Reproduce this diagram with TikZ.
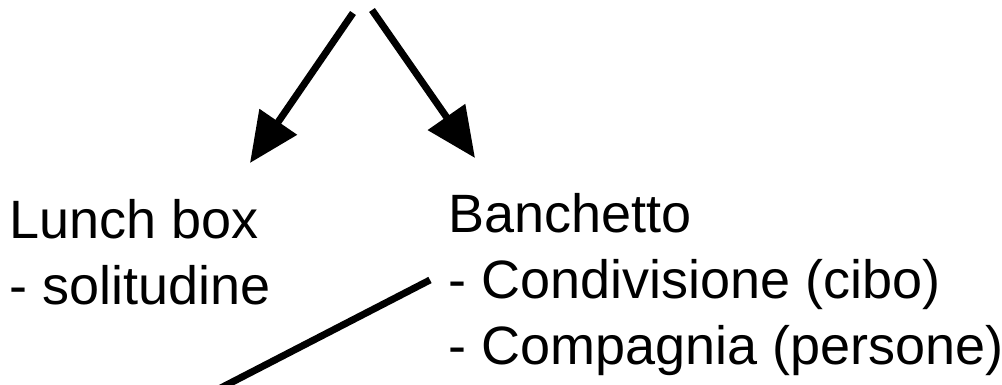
\documentclass[tikz,border=0pt]{standalone}
\usepackage{fontspec}
\setmainfont{Liberation Sans}
\usetikzlibrary{arrows.meta, positioning}

\begin{document}
\begin{tikzpicture}[x=1pt, y=-1pt, node distance=2cm,
    txt/.style={anchor=base west, align=left, inner sep=0pt, font=\fontsize{54}{66}\selectfont},
    bigarrow/.style={-{Triangle[length=50pt, width=44pt]}, line width=7pt}]
    \path[use as bounding box, clip] (0,0) rectangle (1002,385);

    \node (lunch) [txt] at (9,304) {Lunch box\\- solitudine};
    \node (banq) [txt] at (448,364) {Banchetto\\- Condivisione (cibo)\\- Compagnia (persone)};

    \coordinate (srcL) at (353,13);
    \coordinate (srcR) at (372,10);
    \coordinate (tipL) at (250,163);
    \coordinate (tipR) at (475,158);
    \draw[bigarrow] (srcL) -- (tipL);
    \draw[bigarrow] (srcR) -- (tipR);

    \coordinate (cut) at (180,409);
    \coordinate (link) at (430,280);
    \draw[line width=7pt] (cut) -- (link);
\end{tikzpicture}
\end{document}
